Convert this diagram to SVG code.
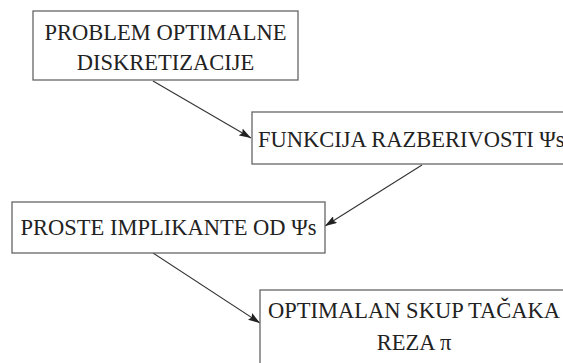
<svg xmlns="http://www.w3.org/2000/svg" width="563" height="363" viewBox="0 0 563 363">
<style>
.box{fill:#fff;stroke:#666;stroke-width:1.3}
.t{font-family:"Liberation Serif","Times New Roman",serif;font-size:22.5px;fill:#222}
.c{stroke:#333;stroke-width:1.1;fill:none;marker-end:url(#ah)}
</style>
<defs>
<marker id="ah" viewBox="0 0 12 8" refX="12" refY="4" markerWidth="12" markerHeight="8" markerUnits="userSpaceOnUse" orient="auto">
<path d="M0,0 L12,4 L0,8 L2,4 Z" fill="#222"/>
</marker>
</defs>
<rect width="563" height="363" fill="#fff"/>
<g id="connectors">
<line class="c" x1="153" y1="81" x2="251" y2="138"/>
<line class="c" x1="422" y1="165" x2="325" y2="226"/>
<line class="c" x1="153" y1="253" x2="260" y2="323"/>
</g>
<g id="n1">
<rect class="box" x="33" y="11" width="265" height="69"/>
<text class="t" x="165.5" y="40" text-anchor="middle">PROBLEM OPTIMALNE</text>
<text class="t" x="165.5" y="70" text-anchor="middle">DISKRETIZACIJE</text>
</g>
<g id="n2">
<rect class="box" x="252" y="112" width="330" height="52"/>
<text class="t" x="258" y="147">FUNKCIJA RAZBERIVOSTI Ψs</text>
</g>
<g id="n3">
<rect class="box" x="12" y="202" width="313" height="51"/>
<text class="t" x="168.5" y="235" text-anchor="middle">PROSTE IMPLIKANTE OD Ψs</text>
</g>
<g id="n4">
<rect class="box" x="260" y="290" width="320" height="90"/>
<text class="t" x="414" y="318" text-anchor="middle">OPTIMALAN SKUP TAČAKA</text>
<text class="t" x="414" y="350" text-anchor="middle">REZA π</text>
</g>
</svg>
